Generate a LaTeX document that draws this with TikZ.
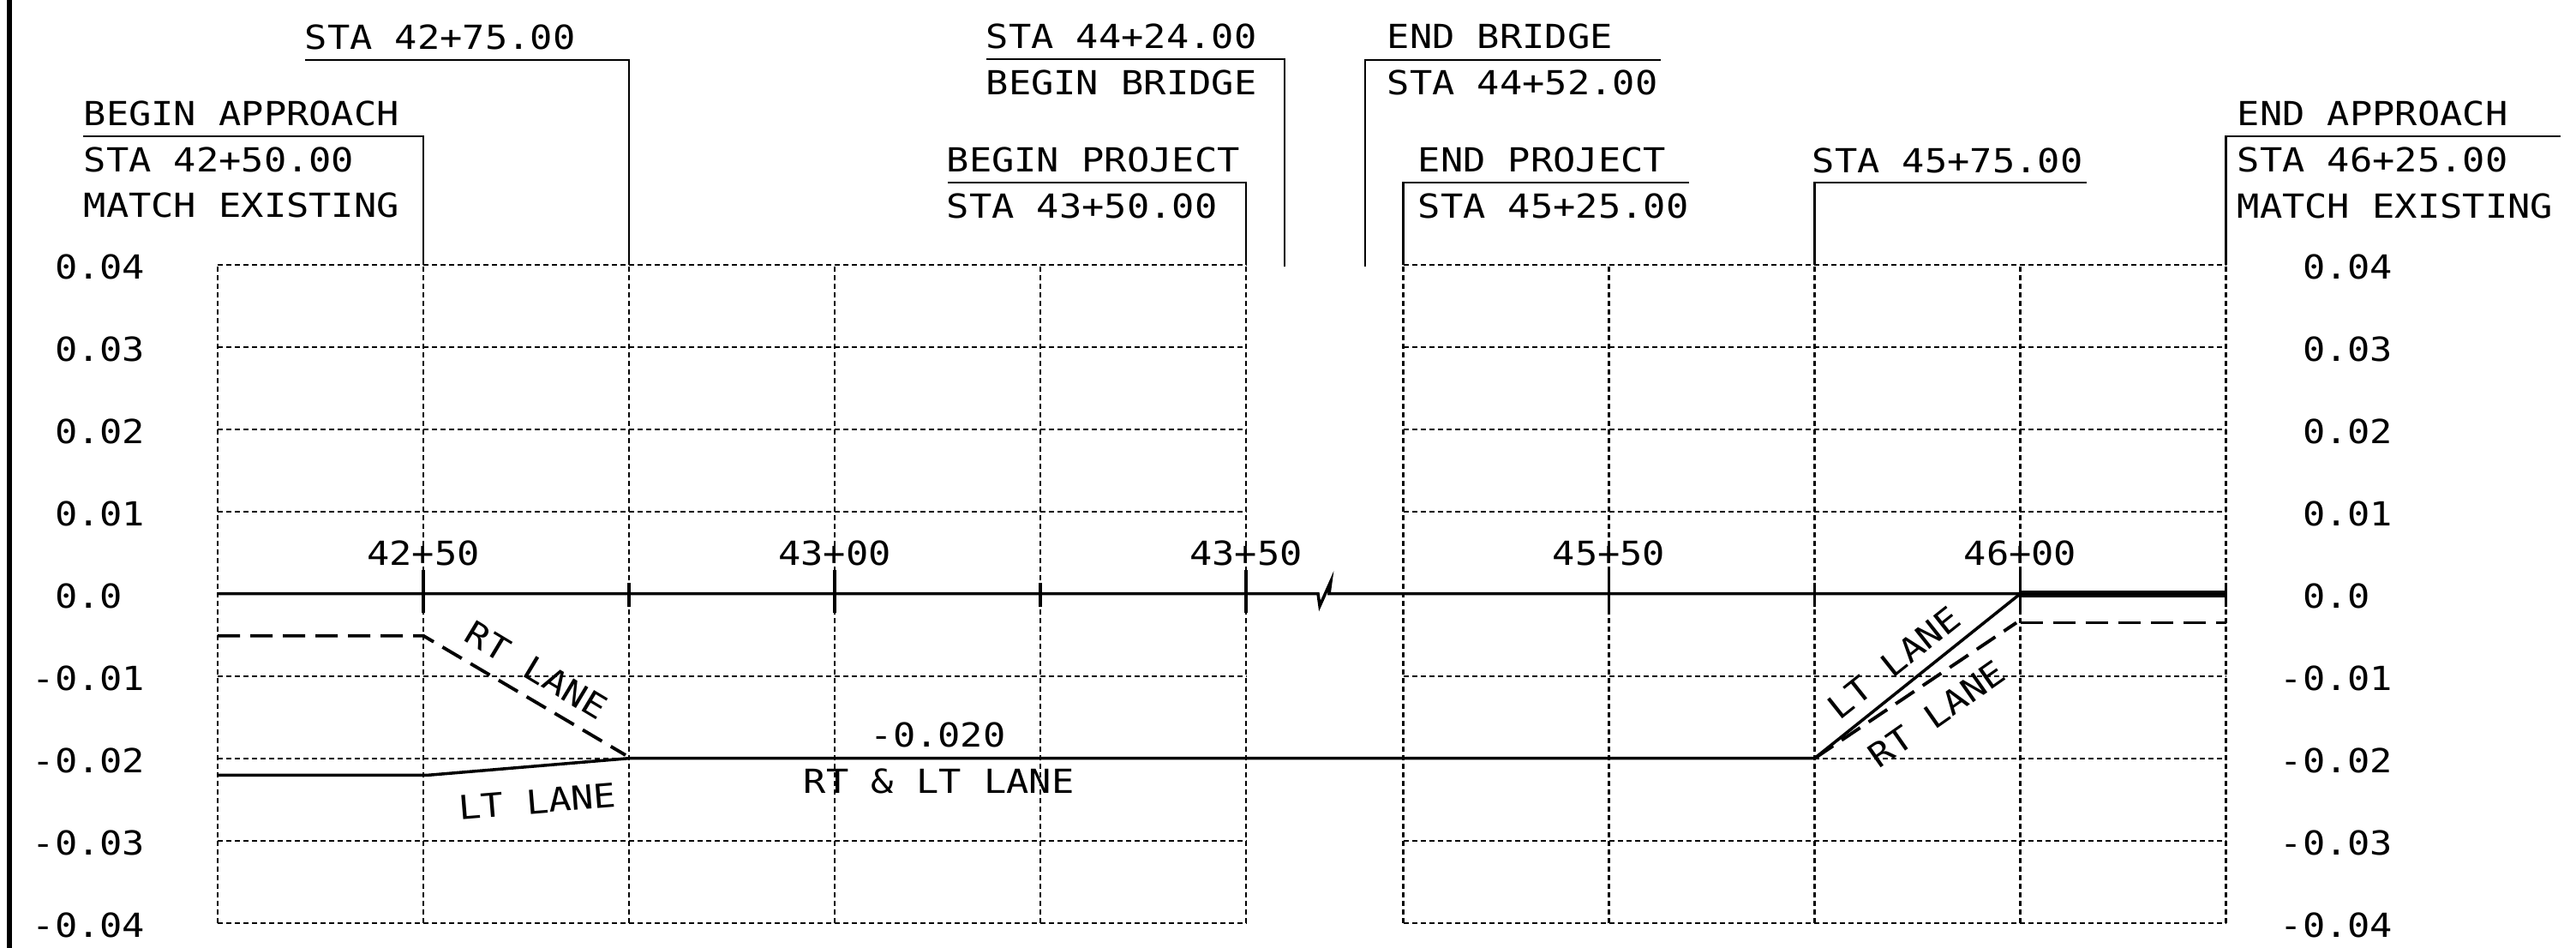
\documentclass[tikz,border=0pt]{standalone}
\usepackage{fontspec}
\newfontfamily\cadfont{DejaVu Sans Mono}[FakeStretch=1.13]
\usetikzlibrary{calc}

\tikzset{
	gridln/.style={line width=0.6pt, dash pattern=on 0.06cm off 0.04cm},
	profile/.style={line width=1pt},
	rtlane/.style={line width=1.1pt, dash pattern=on 0.26cm off 0.12cm},
	leader/.style={line width=0.7pt},
	lbl/.style={font=\cadfont\fontsize{11}{13}\selectfont, inner sep=0pt, anchor=base west},
	sta/.style={lbl, anchor=base},
	lane/.style={lbl, anchor=center},
}

\begin{document}
\begin{tikzpicture}
			%%%%% START %%%%%
			\useasboundingbox (0,0) rectangle (30.06,11.06);
			
			\draw[line width=1.7pt] (0.11,0) -- (0.11,11.06);
			
			% grid, left part and right part of the break
			\foreach \x in {2.54,4.94,7.34,9.74,12.14,14.54}
				\draw[gridln] (\x,0.293) -- (\x,7.973);
			\foreach \x in {16.375,18.775,21.175,23.575,25.975}
				\draw[gridln] (\x,0.293) -- (\x,7.973);
			\foreach \k in {-4,...,4} {
				\draw[gridln] (2.54,4.133+0.96*\k) -- (14.54,4.133+0.96*\k);
				\draw[gridln] (16.375,4.133+0.96*\k) -- (25.975,4.133+0.96*\k);
			}
			
			% slope values
			\foreach \k/\t in {4/0.04,3/0.03,2/0.02,1/0.01,0/0.0} {
				\node[lbl] (yl\k) at (0.37,3.963+0.96*\k) {\phantom{-}\t};
				\node[lbl] (yr\k) at (26.60,3.963+0.96*\k) {\phantom{-}\t};
			}
			\foreach \k/\t in {1/-0.01,2/-0.02,3/-0.03,4/-0.04} {
				\node[lbl] (ylm\k) at (0.37,3.963-0.96*\k) {\t};
				\node[lbl] (yrm\k) at (26.60,3.963-0.96*\k) {\t};
			}
			
			% station points on top of the grid
			\coordinate (s4250) at (4.94,7.973);
			\coordinate (s4275) at (7.34,7.973);
			\coordinate (s4350) at (14.54,7.973);
			\coordinate (s4424) at (14.99,7.95);
			\coordinate (s4452) at (15.93,7.95);
			\coordinate (s4525) at (16.375,7.973);
			\coordinate (s4575) at (21.175,7.973);
			\coordinate (s4625) at (25.975,7.973);
			
			% callouts
			\node[lbl] (sta4275) at (3.55,10.48) {STA 42+75.00};
			\draw[leader] (3.56,10.36) -| (s4275);
			
			\node[lbl] (beginapp) at (0.97,9.59) {BEGIN APPROACH};
			\node[lbl] (sta4250) at (0.97,9.05) {STA 42+50.00};
			\node[lbl] (matchl) at (0.97,8.52) {MATCH EXISTING};
			\draw[leader] (0.97,9.47) -| (s4250);
			
			\node[lbl] (sta4424) at (11.50,10.49) {STA 44+24.00};
			\node[lbl] (beginbr) at (11.50,9.95) {BEGIN BRIDGE};
			\draw[leader] (11.51,10.37) -| (s4424);
			
			\node[lbl] (beginpr) at (11.04,9.05) {BEGIN PROJECT};
			\node[lbl] (sta4350) at (11.04,8.51) {STA 43+50.00};
			\draw[leader] (11.06,8.93) -| (s4350);
			
			\node[lbl] (endbr) at (16.18,10.49) {END BRIDGE};
			\node[lbl] (sta4452) at (16.18,9.95) {STA 44+52.00};
			\draw[leader] (19.375,10.36) -| (s4452);
			
			\node[lbl] (endpr) at (16.54,9.05) {END PROJECT};
			\node[lbl] (sta4525) at (16.54,8.51) {STA 45+25.00};
			\draw[leader] (19.71,8.93) -| (s4525);
			
			\node[lbl] (sta4575) at (21.14,9.04) {STA 45+75.00};
			\draw[leader] (24.35,8.93) -| (s4575);
			
			\node[lbl] (endapp) at (26.10,9.59) {END APPROACH};
			\node[lbl] (sta4625) at (26.10,9.05) {STA 46+25.00};
			\node[lbl] (matchr) at (26.10,8.51) {MATCH EXISTING};
			\draw[leader] (29.875,9.47) -| (s4625);
			
			% profile grade line with break
			\draw[profile] (2.54,4.133) -- (15.38,4.133) -- (15.40,3.99) -- (15.53,4.28)
				-- (15.51,4.133) -- (23.575,4.133);
			\draw[line width=2.3pt] (23.575,4.133) -- (25.975,4.133);
			\foreach \x in {4.94,9.74,14.54,18.775,23.575}
				\draw[profile] (\x,4.41) -- (\x,3.91);
			\foreach \x in {7.34,12.14,21.175,25.975}
				\draw[profile] (\x,4.26) -- (\x,3.98);
			\node[sta] (st4250) at (4.94,4.46) {42+50};
			\node[sta] (st4300) at (9.74,4.46) {43+00};
			\node[sta] (st4350) at (14.54,4.46) {43+50};
			\node[sta] (st4550) at (18.775,4.46) {45+50};
			\node[sta] (st4600) at (23.575,4.46) {46+00};
			
			% lanes
			\draw[profile] (2.54,2.017) -- (5.0,2.017) -- (7.34,2.213) -- (21.175,2.213) -- (23.575,4.133);
			\draw[rtlane] (2.54,3.643) -- (4.94,3.643) -- (7.30,2.25);
			\draw[rtlane] (21.175,2.213) -- (23.53,3.795);
			\draw[rtlane] (23.575,3.795) -- (25.975,3.795);
			
			\node[lane, rotate=-31] (rtl) at (6.26,3.24) {RT LANE};
			\node[lane, rotate=4.7] (ltl) at (6.27,1.71) {LT LANE};
			\node[lbl] (grade) at (10.15,2.34) {-0.020};
			\node[lbl] (both) at (9.37,1.80) {RT \& LT LANE};
			\node[lane, rotate=38.5] (ltr) at (22.10,3.33) {LT LANE};
			\node[lane, rotate=35] (rtr) at (22.60,2.73) {RT LANE};
			
			%%%%% END %%%%%
\end{tikzpicture}
\end{document}
